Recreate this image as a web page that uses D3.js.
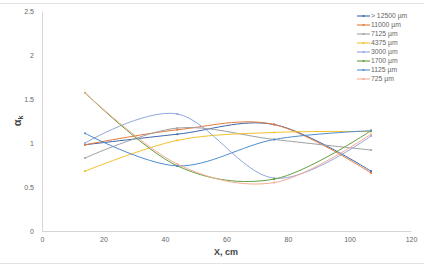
<!DOCTYPE html>
<html>
<head>
<meta charset="utf-8">
<script src="https://cdn.jsdelivr.net/npm/d3@7"></script>
<style>
body { margin: 0; background: #fff; }
svg { display: block; font-family: "Liberation Sans", Arial, sans-serif; }
</style>
</head>
<body>
<div id="chart"></div>
<script>
var fullWidth = 424;
var fullHeight = 266;
var margin = { left: 42, right: 13, top: 11, bottom: 35 };
var width = fullWidth - margin.left - margin.right;
var height = fullHeight - margin.top - margin.bottom;

// positions along the sieve, cm
var xs = [14, 44, 75.5, 107];

var seriesNames = ["> 12500 \u00b5m", "11000 \u00b5m", "7125 \u00b5m", "4375 \u00b5m",
                   "3000 \u00b5m", "1700 \u00b5m", "1125 \u00b5m", "725 \u00b5m"];
var seriesColors = ["#3d67ad", "#e57a3c", "#a0a0a0", "#f3c22b",
                    "#93a6dc", "#62a040", "#4f8ccc", "#f4ad92"];

var s12500 = [0.98, 1.10, 1.21, 0.68];
var s11000 = [0.98, 1.15, 1.21, 0.66];
var s7125 = [0.83, 1.17, 1.04, 0.92];
var s4375 = [0.68, 1.03, 1.12, 1.13];
var s3000 = [1.00, 1.33, 0.60, 1.08];
var s1700 = [1.57, 0.74, 0.59, 1.14];
var s1125 = [1.11, 0.74, 1.04, 1.14];
var s725 = [1.57, 0.76, 0.55, 1.10];

var allSeries = [s12500, s11000, s7125, s4375, s3000, s1700, s1125, s725];

var xTicks = [0, 20, 40, 60, 80, 100, 120];
var yTicks = [0, 0.5, 1, 1.5, 2, 2.5];

var x = d3.scaleLinear().domain([0, 120]).range([0, width]);
var y = d3.scaleLinear().domain([0, 2.5]).range([height, 0]);

var svg = d3.select("#chart").append("svg")
    .attr("width", fullWidth)
    .attr("height", fullHeight);

// outer frame
svg.append("rect")
    .attr("x", -1).attr("y", 3.5)
    .attr("width", fullWidth + 2).attr("height", 260)
    .attr("fill", "none")
    .attr("stroke", "#e2e2e2");

var g = svg.append("g")
    .attr("transform", "translate(" + margin.left + "," + margin.top + ")");

// axes
var xAxis = d3.axisBottom(x).tickValues(xTicks).tickSize(0).tickPadding(6);
var yAxis = d3.axisLeft(y).tickValues(yTicks).tickSize(0).tickPadding(8)
    .tickFormat(function (d) { return d; });

g.append("g")
    .attr("transform", "translate(0," + height + ")")
    .call(xAxis)
    .call(function (a) {
        a.select(".domain").attr("stroke", "#d6d6d6");
        a.selectAll("text").attr("fill", "#666").style("font-size", "7px");
    });

g.append("g")
    .call(yAxis)
    .call(function (a) {
        a.select(".domain").attr("stroke", "#d6d6d6");
        a.selectAll("text").attr("fill", "#666").style("font-size", "7px");
    });

// lines
var line = d3.line()
    .x(function (d, i) { return x(xs[i]); })
    .y(function (d) { return y(d); })
    .curve(d3.curveCatmullRom.alpha(0));

allSeries.forEach(function (s, k) {
    g.append("path")
        .datum(s)
        .attr("fill", "none")
        .attr("stroke", seriesColors[k])
        .attr("stroke-width", 1)
        .attr("d", line);
    g.selectAll(".m" + k)
        .data(s)
        .enter().append("path")
        .attr("class", "m" + k)
        .attr("transform", function (d, i) { return "translate(" + x(xs[i]) + "," + y(d) + ")"; })
        .attr("d", d3.symbol().type(d3.symbolCircle).size(3.5))
        .attr("fill", seriesColors[k]);
});

// axis titles
svg.append("text")
    .attr("x", 226).attr("y", 255)
    .attr("text-anchor", "middle")
    .attr("fill", "#444")
    .style("font-size", "9px")
    .style("font-weight", "bold")
    .text("X, cm");

var yt = svg.append("text")
    .attr("transform", "translate(21,121) rotate(-90)")
    .attr("text-anchor", "middle")
    .attr("fill", "#444")
    .style("font-size", "11px")
    .style("font-weight", "bold");
yt.append("tspan").text("\u03b1");
yt.append("tspan").attr("dy", 2).style("font-size", "7px").text("k");

// legend
var legend = svg.append("g").attr("transform", "translate(357,16)");
seriesNames.forEach(function (name, k) {
    var row = legend.append("g").attr("transform", "translate(0," + k * 9 + ")");
    row.append("line")
        .attr("x1", 0).attr("x2", 13)
        .attr("stroke", seriesColors[k])
        .attr("stroke-width", 1.1);
    row.append("circle")
        .attr("cx", 6.5).attr("r", 1.1)
        .attr("fill", seriesColors[k]);
    row.append("text")
        .attr("x", 14).attr("dy", "0.35em")
        .attr("fill", "#666")
        .style("font-size", "6.8px")
        .text(name);
});
</script>
</body>
</html>
